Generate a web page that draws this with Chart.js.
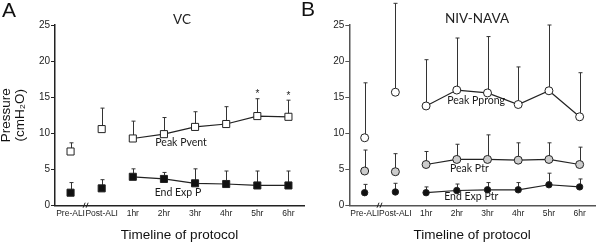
<!DOCTYPE html>
<html lang="en">
<head>
<meta charset="utf-8">
<title>Pressure - VC vs NIV-NAVA</title>
<script src="https://cdn.jsdelivr.net/npm/chart.js@4.4.1/dist/chart.umd.min.js"></script>
<style>
    body { margin: 0; background: #fff; overflow: hidden; }
    #wrap { position: relative; width: 600px; height: 243px; }
    canvas { position: absolute; top: 0; }
    .lbl { position: absolute; font-family: "Liberation Sans", Arial, sans-serif; color: #111; white-space: nowrap; }
    .ttl { position: absolute; font-family: Lato, "Liberation Sans", sans-serif; font-size: 13.5px; color: #222; transform: translate(-50%, -50%); white-space: nowrap; }
</style>
</head>
<body>
<div id="wrap">
    <canvas id="chartA" width="310" height="243" style="left:0"></canvas>
    <canvas id="chartB" width="300" height="243" style="left:300px"></canvas>
    <div class="lbl" style="left:2px; top:-2px; font-size:21px">A</div>
    <div class="lbl" style="left:301px; top:-3px; font-size:21px">B</div>
    <div class="ttl" style="left:182px; top:19px">VC</div>
    <div class="ttl" style="left:477px; top:18px">NIV-NAVA</div>
</div>

<script>
// categories
var labels = ["Pre-ALI", "Post-ALI", "1hr", "2hr", "3hr", "4hr", "5hr", "6hr"];

// panel A - VC
var peakPvent = [7.5, 10.6, 9.3, 9.9, 10.9, 11.3, 12.4, 12.3];
var peakPventSD = [1.2, 2.9, 2.4, 2.3, 2.1, 2.4, 2.4, 2.3];
var endExpP = [1.8, 2.4, 4.0, 3.7, 3.1, 3.0, 2.8, 2.8];
var endExpPSD = [1.4, 1.2, 1.1, 0.9, 2.0, 1.8, 2.0, 2.0];
var starsA = ["", "", "", "", "", "", "*", "*"];

// panel B - NIV-NAVA
var peakPprong = [9.4, 15.7, 13.8, 16.0, 15.6, 14.0, 15.9, 12.3];
var peakPprongSD = [7.6, 12.3, 6.4, 7.2, 7.8, 5.2, 9.1, 6.1];
var peakPtr = [4.8, 4.7, 5.7, 6.4, 6.4, 6.3, 6.4, 5.7];
var peakPtrSD = [2.9, 2.5, 1.8, 2.1, 3.4, 2.4, 2.3, 2.4];
var endExpPtr = [1.8, 1.9, 1.8, 2.1, 2.2, 2.2, 2.9, 2.6];
var endExpPtrSD = [1.15, 1.2, 0.8, 0.9, 1.0, 1.0, 1.6, 1.1];

var yTicks = [0, 5, 10, 15, 20, 25];

var ink = "#222";

// upper error bars, stars, axis break and series names
var extras = {
    id: "extras",
    beforeDatasetsDraw: function (chart) {
        var ctx = chart.ctx, x = chart.scales.x, y = chart.scales.y;
        ctx.save();
        ctx.strokeStyle = "#333";
        ctx.lineWidth = 1;
        chart.data.datasets.forEach(function (ds) {
            if (!ds.sd) return;
            ds.data.forEach(function (v, i) {
                var px = Math.round(x.getPixelForValue(i)) + 0.5;
                var p0 = y.getPixelForValue(v);
                var p1 = y.getPixelForValue(v + ds.sd[i]);
                ctx.beginPath();
                ctx.moveTo(px, p0);
                ctx.lineTo(px, p1);
                ctx.moveTo(px - 2, p1);
                ctx.lineTo(px + 2, p1);
                ctx.stroke();
                if (ds.stars && ds.stars[i]) {
                    ctx.fillStyle = "#222";
                    ctx.font = "10px 'Liberation Sans', Arial";
                    ctx.textAlign = "center";
                    ctx.textBaseline = "middle";
                    ctx.fillText(ds.stars[i], px, p1 - 4);
                }
            });
        });
        ctx.restore();
    },
    afterDraw: function (chart, args, opts) {
        var ctx = chart.ctx, x = chart.scales.x, y = chart.scales.y;
        ctx.save();
        // axis break between Pre-ALI and Post-ALI
        var bx = (x.getPixelForValue(0) + x.getPixelForValue(1)) / 2;
        var by = chart.chartArea.bottom;
        ctx.strokeStyle = "#222";
        ctx.lineWidth = 1;
        ctx.beginPath();
        ctx.moveTo(bx - 3, by + 2); ctx.lineTo(bx - 1, by - 3);
        ctx.moveTo(bx, by + 2); ctx.lineTo(bx + 2, by - 3);
        ctx.stroke();
        // series names
        ctx.fillStyle = "#1a1a1a";
        ctx.font = "10.5px Lato, 'Open Sans', sans-serif";
        ctx.textAlign = "center";
        ctx.textBaseline = "middle";
        (opts.names || []).forEach(function (n) {
            var px = x.getPixelForValue(0) + n.at * (x.getPixelForValue(1) - x.getPixelForValue(0));
            ctx.fillText(n.text, px, y.getPixelForValue(n.v));
        });
        ctx.restore();
    }
};

function series(values, sd, bg, style, radius, stars) {
    return {
        data: values,
        sd: sd,
        stars: stars,
        borderColor: ink,
        borderWidth: 1.2,
        backgroundColor: bg,
        pointStyle: style,
        pointRadius: radius,
        pointBorderWidth: 1,
        pointBorderColor: ink,
        pointBackgroundColor: bg,
        clip: false,
        segment: {
            borderColor: function (c) { return c.p0DataIndex < 2 ? "rgba(0,0,0,0)" : ink; }
        }
    };
}

function opts(axisColor, yWidth, yTitle, names) {
    return {
        responsive: false,
        animation: false,
        layout: { padding: { top: 25, right: 3, bottom: 0, left: 0 } },
        plugins: {
            legend: { display: false },
            tooltip: { enabled: false },
            extras: { names: names }
        },
        scales: {
            x: {
                offset: true,
                grid: { display: false, drawTicks: false },
                border: { display: true, color: axisColor, width: 1.5 },
                ticks: {
                    autoSkip: false, maxRotation: 0, padding: 3, color: "#222",
                    font: { family: "'Liberation Sans', Arial", size: 8.5 }
                },
                title: {
                    display: true, text: "Timeline of protocol", color: "#111",
                    font: { family: "'Liberation Sans', Arial", size: 13.5 }, padding: 0
                },
                afterFit: function (s) { s.height = 37.3; }
            },
            y: {
                min: 0, max: 25,
                afterBuildTicks: function (s) { s.ticks = yTicks.map(function (v) { return { value: v }; }); },
                grid: { display: true, drawOnChartArea: false, drawTicks: true, tickLength: 4, color: axisColor },
                border: { display: true, color: axisColor, width: 1.5 },
                ticks: { padding: 1, color: "#222", font: { family: "'Liberation Sans', Arial", size: 10 } },
                title: {
                    display: yTitle, text: ["Pressure", "(cmH\u2082O)"], color: "#111",
                    font: { family: "'Liberation Sans', Arial", size: 13.5, lineHeight: 1.0 }, padding: 0
                },
                afterFit: function (s) { s.width = yWidth; }
            }
        }
    };
}

new Chart(document.getElementById("chartA").getContext("2d"), {
    type: "line",
    data: {
        labels: labels,
        datasets: [
            series(peakPvent, peakPventSD, "#fff", "rect", 5, starsA),
            series(endExpP, endExpPSD, "#111", "rect", 5)
        ]
    },
    options: opts("#222", 55, true, [
        { text: "Peak Pvent", at: 3.55, v: 8.7 },
        { text: "End Exp P", at: 3.45, v: 1.75 }
    ]),
    plugins: [extras]
});

new Chart(document.getElementById("chartB").getContext("2d"), {
    type: "line",
    data: {
        labels: labels,
        datasets: [
            series(peakPprong, peakPprongSD, "#fff", "circle", 4),
            series(peakPtr, peakPtrSD, "#ccc", "circle", 4),
            series(endExpPtr, endExpPtrSD, "#111", "circle", 3.2)
        ]
    },
    options: opts("#555", 49.3, false, [
        { text: "Peak Pprong", at: 3.63, v: 14.6 },
        { text: "Peak Ptr", at: 3.41, v: 5.2 },
        { text: "End Exp Ptr", at: 3.47, v: 1.2 }
    ]),
    plugins: [extras]
});
</script>
</body>
</html>
